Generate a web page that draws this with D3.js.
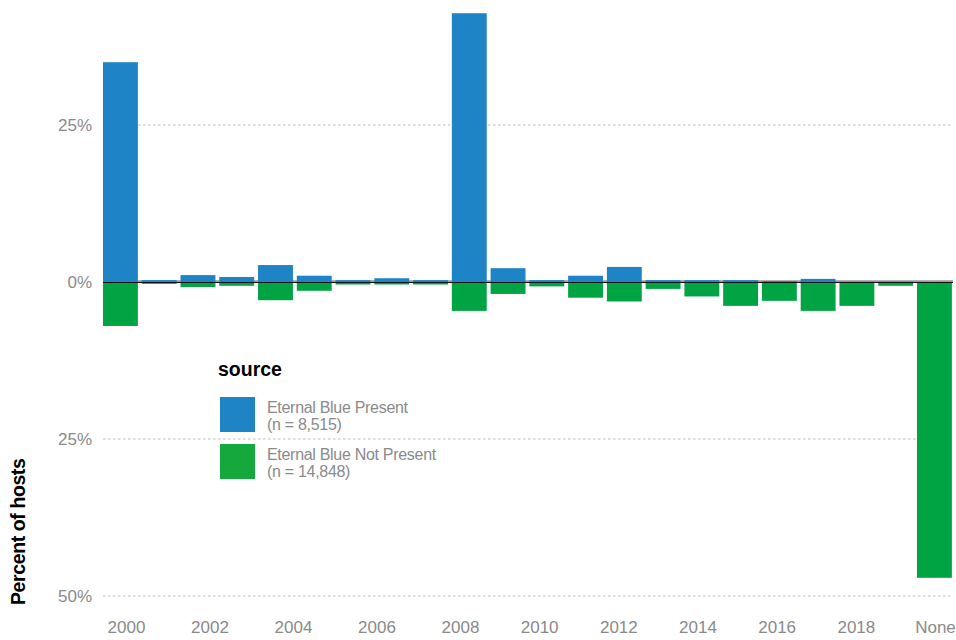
<!DOCTYPE html>
<html>
<head>
<meta charset="utf-8">
<script src="https://cdn.jsdelivr.net/npm/d3@7"></script>
<style>
  html, body { margin: 0; padding: 0; background: #fff; }
  svg { display: block; font-family: "Liberation Sans", Arial, Helvetica, sans-serif; }
</style>
</head>
<body>
<svg id="chart" width="956" height="640"></svg>
<script>
// ---- data ----
const categories = ["1999","2000","2001","2002","2003","2004","2005","2006","2007","2008","2009",
                    "2010","2011","2012","2013","2014","2015","2016","2017","2018","2019","None"];
// percent of hosts, Eternal Blue present (plotted upward)
const presentValues = [35.0, 0.3, 1.1, 0.8, 2.7, 1.0, 0.3, 0.6, 0.3, 42.8, 2.2,
                       0.3, 1.0, 2.4, 0.3, 0.3, 0.3, 0.15, 0.5, 0.05, 0.05, 0.0];
// percent of hosts, Eternal Blue not present (plotted downward)
const notPresentValues = [7.0, 0.3, 0.8, 0.6, 2.9, 1.4, 0.4, 0.4, 0.4, 4.6, 1.9,
                          0.7, 2.5, 3.1, 1.1, 2.3, 3.8, 3.0, 4.6, 3.8, 0.6, 47.1];
const xTickLabels = ["2000","2002","2004","2006","2008","2010","2012","2014","2016","2018","None"];
const yTickValues = [25, 0, -25, -50];
const seriesNames = ["Eternal Blue Present", "Eternal Blue Not Present"];
const seriesCounts = ["(n = 8,515)", "(n = 14,848)"];
const seriesColors = ["#1f84c6", "#00a443"];
const legendColors = ["#1f84c6", "#14a83d"];

// ---- chart ----
const svg = d3.select("#chart");

const x = d3.scaleBand().domain(categories).range([101.06, 953.8])
  .paddingInner(0.1).paddingOuter(0.05);
const y = d3.scaleLinear().domain([-50, 25]).range([596, 125]);
// tick labels are spread along the axis independently of the bars
const xLab = d3.scaleLinear().domain([0, 4, 10]).range([126, 460, 935]);

// grid lines
const gridX0 = 103, gridX1 = 953;
svg.append("g").selectAll("line")
  .data(yTickValues.filter(v => v !== 0))
  .join("line")
  .attr("x1", gridX0).attr("x2", gridX1)
  .attr("y1", d => y(d)).attr("y2", d => y(d))
  .attr("stroke", "#d4d4d4").attr("stroke-width", 1.3)
  .attr("stroke-dasharray", "2.5,2.5");

// y axis labels
const yAxis = d3.axisLeft(y).tickValues(yTickValues)
  .tickFormat(d => Math.abs(d) + "%").tickSize(0).tickPadding(0);
const gy = svg.append("g").attr("transform", "translate(92,0)").call(yAxis);
gy.select(".domain").remove();
gy.selectAll("text").attr("fill", "#8a8a8a").style("font-size", "17px")
  .style("font-family", "'Liberation Sans', Arial, sans-serif").attr("dy", "0.35em");

// zero reference (gray under-line)
svg.append("line").attr("x1", gridX0).attr("x2", gridX1)
  .attr("y1", y(0) - 0.5).attr("y2", y(0) - 0.5)
  .attr("stroke", "#9a9a9a").attr("stroke-width", 2.5);

// bars
svg.append("g").selectAll("rect")
  .data(categories.map((c, i) => ({c, v: presentValues[i]})))
  .join("rect")
  .attr("x", d => x(d.c)).attr("width", x.bandwidth())
  .attr("y", d => y(d.v)).attr("height", d => y(0) - y(d.v))
  .attr("fill", seriesColors[0]);

svg.append("g").selectAll("rect")
  .data(categories.map((c, i) => ({c, v: notPresentValues[i]})))
  .join("rect")
  .attr("x", d => x(d.c)).attr("width", x.bandwidth())
  .attr("y", y(0)).attr("height", d => y(-d.v) - y(0))
  .attr("fill", seriesColors[1]);

// zero line on top
svg.append("line").attr("x1", gridX0).attr("x2", gridX1)
  .attr("y1", y(0) + 0.5).attr("y2", y(0) + 0.5)
  .attr("stroke", "#111").attr("stroke-width", 1.2);

// x axis labels
const xAxis = d3.axisBottom(xLab).tickValues(d3.range(xTickLabels.length))
  .tickFormat(i => xTickLabels[i]).tickSize(0).tickPadding(0);
const gx = svg.append("g").attr("transform", "translate(0,621)").call(xAxis);
gx.select(".domain").remove();
gx.selectAll("text").attr("fill", "#8a8a8a").style("font-size", "17px")
  .style("font-family", "'Liberation Sans', Arial, sans-serif").attr("dy", "0.71em");

// y axis title
svg.append("text")
  .attr("transform", "translate(25,605) rotate(-90)")
  .attr("text-anchor", "start")
  .style("font-size", "19.5px").style("font-weight", "bold")
  .style("letter-spacing", "-0.4px")
  .attr("fill", "#000").text("Percent of hosts");

// legend
const legend = svg.append("g");
legend.append("text").attr("x", 218).attr("y", 376)
  .style("font-size", "19.5px").style("font-weight", "bold")
  .attr("fill", "#000").text("source");
const li = legend.selectAll("g.item").data(seriesNames).join("g")
  .attr("class", "item")
  .attr("transform", (d, i) => `translate(220,${397 + i * 47})`);
li.append("rect").attr("width", 35).attr("height", 35)
  .attr("fill", (d, i) => legendColors[i]);
li.append("text").attr("x", 47).attr("y", 16)
  .style("font-size", "16px").style("letter-spacing", "-0.3px")
  .attr("fill", "#8a8a8a").text(d => d);
li.append("text").attr("x", 47).attr("y", 33)
  .style("font-size", "16px").style("letter-spacing", "-0.3px")
  .attr("fill", "#8a8a8a").text((d, i) => seriesCounts[i]);
</script>
</body>
</html>
